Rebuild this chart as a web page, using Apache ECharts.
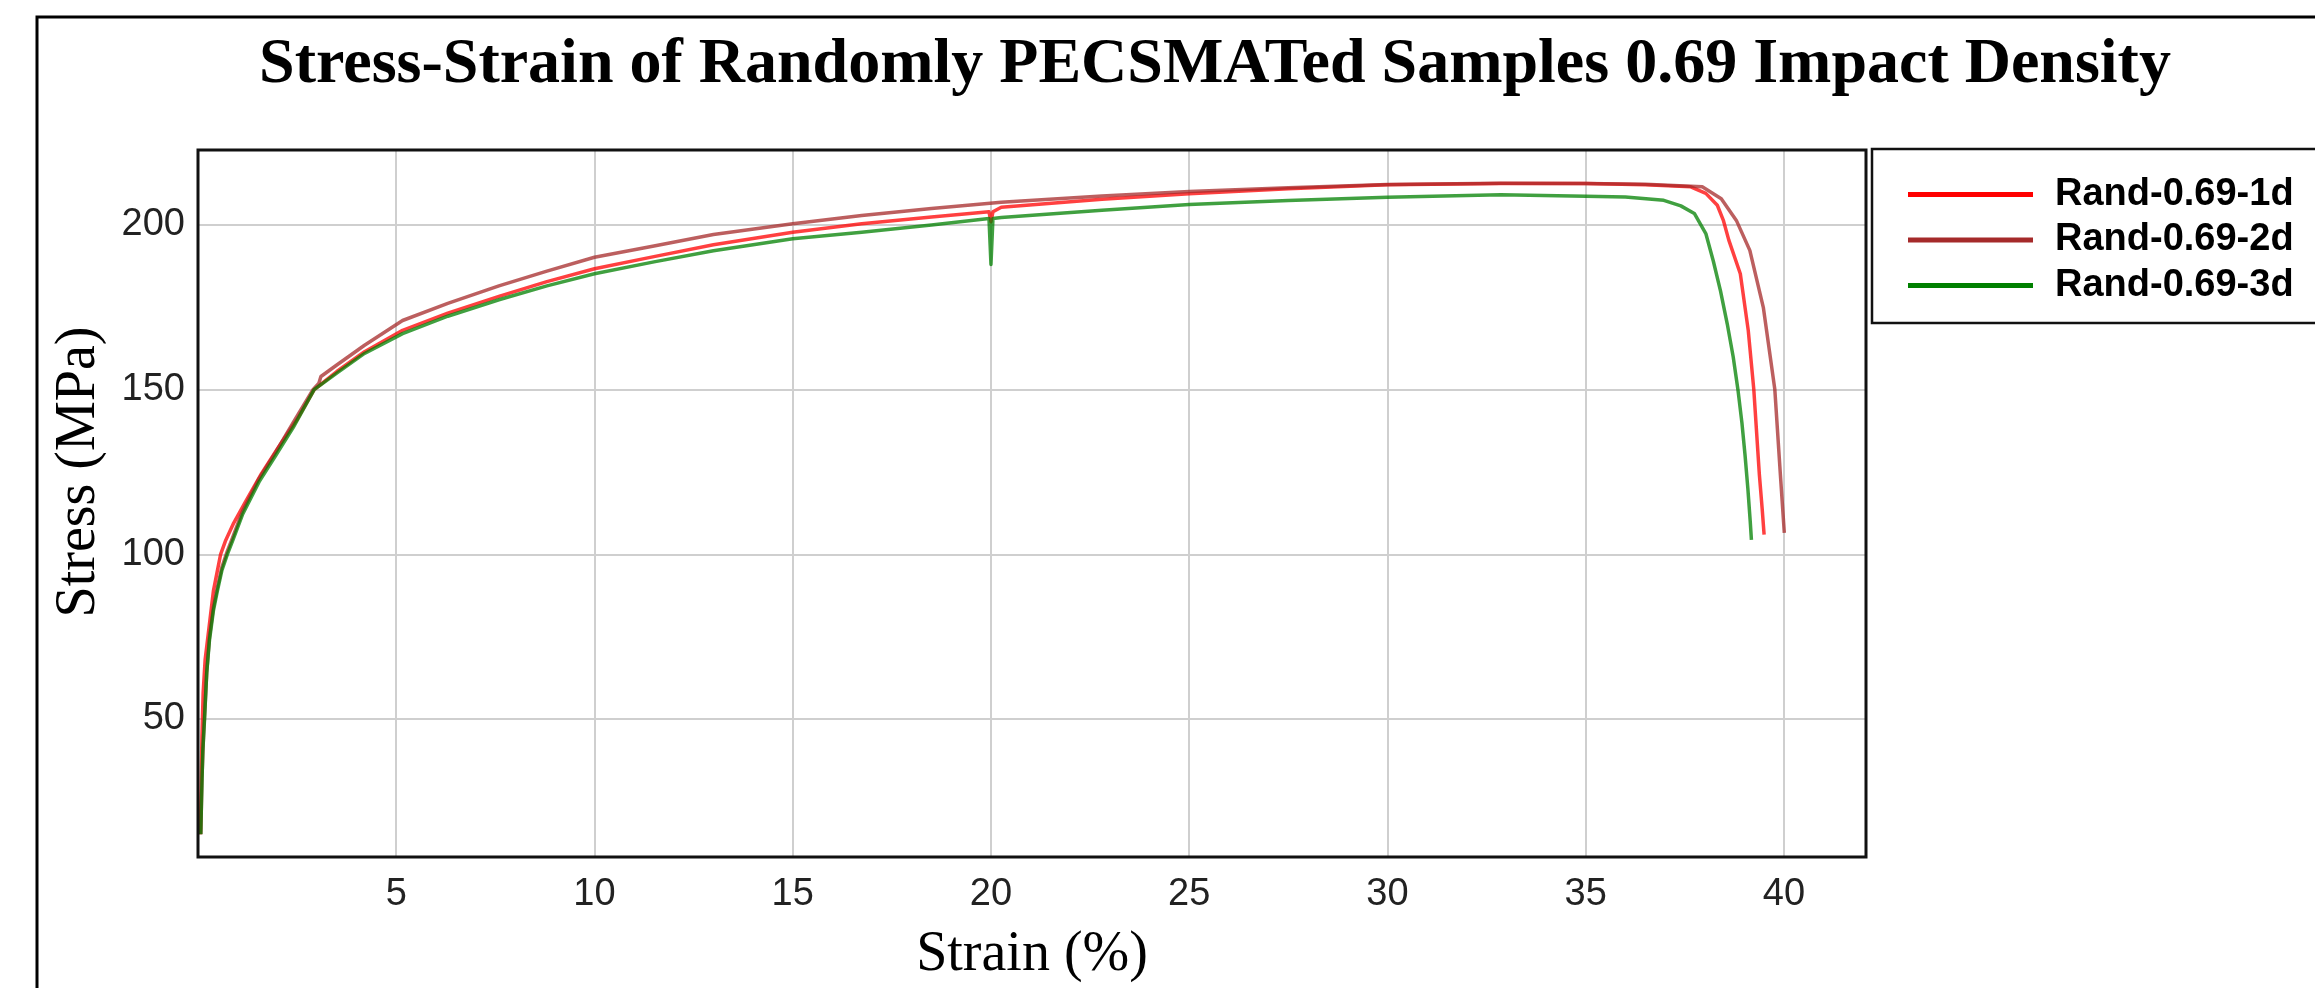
<!DOCTYPE html>
<html>
<head>
<meta charset="utf-8">
<script src="https://cdn.jsdelivr.net/npm/echarts@6/dist/echarts.min.js"></script>
<style>
html,body{margin:0;padding:0;background:#fff;}
#chart{width:2315px;height:988px;}
</style>
</head>
<body>
<div id="chart"></div>
<script>
const titleText = 'Stress-Strain of Randomly PECSMATed Samples 0.69 Impact Density';
const xName = 'Strain (%)';
const yName = 'Stress (MPa)';
const seriesNames = ['Rand-0.69-1d', 'Rand-0.69-2d', 'Rand-0.69-3d'];
const seriesColors = ['#ff0000', '#a52a2a', '#008000'];

const strain1d = [0.06,0.08,0.1,0.13,0.18,0.24,0.3,0.39,0.57,0.7,0.9,1.2,1.6,2.0,2.5,2.93,3.5,4.2,5.16,6.3,7.59,8.8,10,11.5,13,15,16.74,18.5,19.95,20,20.05,20.26,22.8,25,27.5,30,32.86,35,36.5,37.65,38.03,38.32,38.47,38.61,38.9,39.1,39.24,39.38,39.45,39.5];
const stress1d = [15,30,45,58,68,74,80,89,100,104.3,109.5,116,124.5,132,141,150,155.5,161.5,168,173.2,178.3,182.8,186.7,190.4,194,197.8,200.4,202.4,204,201,204,205.4,207.8,209.5,211,212.2,212.6,212.6,212.2,211.6,209.6,206,201.5,195.4,185.2,168,150.1,124.3,114,106];

const strain2d = [0.07,0.1,0.14,0.17,0.22,0.29,0.39,0.49,0.6,0.74,0.87,1.12,1.54,1.96,2.4,2.9,3.05,3.1,3.5,4.2,5.16,6.3,7.59,8.8,10,11.5,13,15,16.74,18.5,20.26,22.8,25,27.5,30,32.86,35,36.5,37.94,38.42,38.8,39.14,39.48,39.77,39.91,40.01];
const stress2d = [15,32,45,52,64,75,84,90,96,101,105,113,123,131,140,150,152,154,157.5,163.5,171,176.2,181.5,186,190.2,193.6,197.1,200.4,202.9,205,206.9,208.8,210.2,211.3,212.3,212.7,212.6,212.4,211.6,208,201.4,192.3,175,150.1,124.3,106.5];

const strain3d = [0.07,0.09,0.12,0.165,0.22,0.29,0.39,0.49,0.6,0.74,0.87,1.12,1.54,1.96,2.4,2.93,3.5,4.2,5.16,6.3,7.59,8.8,10,11.5,13,15,16.74,18.5,19.95,20,20.05,20.26,22.8,25,27.5,30,32.86,35,36,36.97,37.4,37.74,38.03,38.22,38.4,38.57,38.72,38.84,38.94,39.02,39.09,39.15,39.18];
const stress3d = [15,26,40,50,64,74,83,89,95,100,104,112,122,130,138.5,150,155,161,167,172.3,177.3,181.5,185.2,188.8,192.2,195.8,197.8,200,202,188,202,202.3,204.5,206.2,207.4,208.4,209.2,208.7,208.5,207.5,205.8,203.5,197.4,189,180,170,160,150,140,130,120,110,104.4];

const xMin = 0, xMax = 42.07, xInterval = 5;
const yMin = 8.1, yMax = 222.77;

function pairs(xs, ys) { return xs.map((x, i) => [x, ys[i]]); }

const chart = echarts.init(document.getElementById('chart'), null, {renderer: 'canvas'});

const dataSets = [pairs(strain1d, stress1d), pairs(strain2d, stress2d), pairs(strain3d, stress3d)];

const option = {
  backgroundColor: '#ffffff',
  animation: false,
  grid: {left: 198, right: 449, top: 150, bottom: 131, containLabel: false},
  xAxis: {
    type: 'value', min: xMin, max: xMax, interval: xInterval,
    axisLine: {show: false}, axisTick: {show: false},
    axisLabel: {showMinLabel: false, showMaxLabel: false, margin: 19, fontSize: 38,
      fontFamily: '"Liberation Sans", Arial, sans-serif', color: '#222'},
    splitLine: {show: true, lineStyle: {color: '#cfcfcf', width: 2}}
  },
  yAxis: {
    type: 'value', min: yMin, max: yMax, splitNumber: 5,
    axisLine: {show: false}, axisTick: {show: false},
    axisLabel: {showMinLabel: false, showMaxLabel: false, margin: 13, fontSize: 38,
      fontFamily: '"Liberation Sans", Arial, sans-serif', color: '#222'},
    splitLine: {show: true, lineStyle: {color: '#cfcfcf', width: 2}}
  },
  legend: {
    orient: 'vertical', left: 1908, top: 175.5, padding: 0,
    itemWidth: 125, itemHeight: 5, itemGap: 7.5, icon: 'rect',
    data: seriesNames,
    itemStyle: {opacity: 1},
    textStyle: {fontSize: 38, fontWeight: 'bold', lineHeight: 38,
      fontFamily: '"Liberation Sans", Arial, sans-serif', color: '#000', padding: [0, 0, 0, 17]}
  },
  series: seriesNames.map((name, i) => ({
    name: name, type: 'line', data: dataSets[i], showSymbol: false, symbol: 'none',
    smooth: false, color: seriesColors[i],
    itemStyle: {color: seriesColors[i]},
    lineStyle: {color: seriesColors[i], width: 3.5, opacity: 0.75, join: 'round'},
    z: 2 + i
  })),
  graphic: [
    {type: 'rect', silent: true, z: 50, shape: {x: 37, y: 17, width: 2400, height: 1100},
      style: {fill: null, stroke: '#000', lineWidth: 3}},
    {type: 'rect', silent: true, z: 50, shape: {x: 198, y: 150, width: 1668, height: 707},
      style: {fill: null, stroke: '#111', lineWidth: 3}},
    {type: 'rect', silent: true, z: 50, shape: {x: 1872, y: 149, width: 600, height: 174},
      style: {fill: null, stroke: '#111', lineWidth: 2.5}},
    {type: 'text', silent: true, z: 50, x: 1215, y: 65,
      style: {text: titleText, fontSize: 64, fontWeight: 'bold', fontFamily: '"Liberation Serif", "Times New Roman", serif',
        fill: '#000', align: 'center', verticalAlign: 'middle', textAlign: 'center', textVerticalAlign: 'middle'}},
    {type: 'text', silent: true, z: 50, x: 1032, y: 955,
      style: {text: xName, fontSize: 56, fontFamily: '"Liberation Serif", "Times New Roman", serif',
        fill: '#000', align: 'center', verticalAlign: 'middle', textAlign: 'center', textVerticalAlign: 'middle'}},
    {type: 'text', silent: true, z: 50, x: 79, y: 472, rotation: Math.PI / 2,
      style: {text: yName, fontSize: 56, fontFamily: '"Liberation Serif", "Times New Roman", serif',
        fill: '#000', align: 'center', verticalAlign: 'middle', textAlign: 'center', textVerticalAlign: 'middle'}}
  ]
};
chart.setOption(option);
</script>
</body>
</html>
